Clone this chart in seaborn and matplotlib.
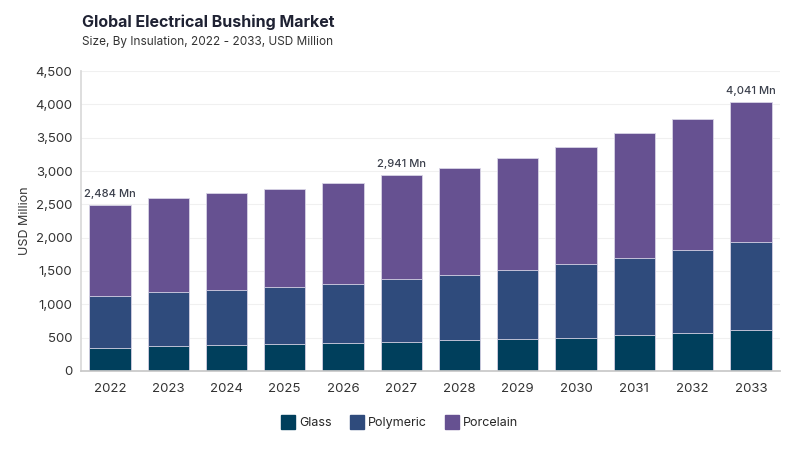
import pandas as pd
import seaborn as sns
import matplotlib.pyplot as plt
from matplotlib.lines import Line2D

# Values (USD Million)
years = ['2022', '2023', '2024', '2025', '2026', '2027',
         '2028', '2029', '2030', '2031', '2032', '2033']
glass = [335, 365, 385, 400, 415, 425, 455, 470, 500, 545, 575, 620]
polymeric = [795, 825, 835, 865, 895, 950, 980, 1045, 1100, 1155, 1245, 1320]
porcelain = [1354, 1410, 1445, 1470, 1515, 1566, 1615, 1685, 1765, 1865, 1955, 2101]
labelled_years = ['2022', '2027', '2033']

series = ['Glass', 'Polymeric', 'Porcelain']
colors = {'Glass': '#003f5c', 'Polymeric': '#2f4b7c', 'Porcelain': '#665191'}

df = pd.DataFrame({'year': years, 'Glass': glass,
                   'Polymeric': polymeric, 'Porcelain': porcelain})
# cumulative tops for stacking
df['Glass_top'] = df['Glass']
df['Polymeric_top'] = df['Glass_top'] + df['Polymeric']
df['Porcelain_top'] = df['Polymeric_top'] + df['Porcelain']

sns.set_theme(style='white')
plt.rcParams['font.family'] = ['Inter', 'DejaVu Sans']

fig = plt.figure(figsize=(8, 4.5), dpi=100)
ax = fig.add_axes([0.101, 0.176, 0.874, 0.666])

# draw from the top segment down so lower segments cover the upper ones
for name in reversed(series):
    sns.barplot(data=df, x='year', y=name + '_top', color=colors[name],
                width=0.71, edgecolor='#d8d4e6', linewidth=0.6,
                saturation=1, ax=ax)

for i, row in df.iterrows():
    if row['year'] in labelled_years:
        ax.text(i, row['Porcelain_top'] + 90, f"{row['Porcelain_top']:,} Mn",
                ha='center', va='bottom', fontsize=8, fontweight='medium',
                color='#3a3f4b')

ax.set_ylim(0, 4500)
ax.set_xlim(-0.5, 11.5)
ax.set_yticks(range(0, 4501, 500))
ax.set_yticklabels([f'{v:,}' for v in range(0, 4501, 500)])
ax.yaxis.grid(True, color='#f0f0f0', linewidth=0.8)
ax.set_axisbelow(True)
ax.tick_params(axis='both', labelsize=9.5, colors='#333333', length=0, pad=6)
ax.tick_params(axis='x', pad=9)
ax.set_xlabel('')
ax.set_ylabel('USD Million', fontsize=9, color='#333333', labelpad=3)

for s in ['top', 'right']:
    ax.spines[s].set_visible(False)
ax.spines['left'].set_color('#d9d9d9')
ax.spines['bottom'].set_color('#c8c8c8')

fig.text(0.102, 0.951, 'Global Electrical Bushing Market', fontsize=11.5,
         fontweight='bold', color='#1f2233', ha='left', va='center')
fig.text(0.102, 0.907, 'Size, By Insulation, 2022 - 2033, USD Million',
         fontsize=8.5, color='#333333', ha='left', va='center')

handles = [Line2D([0], [0], marker='s', linestyle='', markersize=10,
                  markerfacecolor=colors[n], markeredgecolor=colors[n])
           for n in series]
fig.legend(handles, series, loc='center', bbox_to_anchor=(0.5, 0.06),
           ncol=3, frameon=False, fontsize=9, handletextpad=0.4,
           columnspacing=1.5, handlelength=1.0)

plt.savefig('out.png', dpi=100)
